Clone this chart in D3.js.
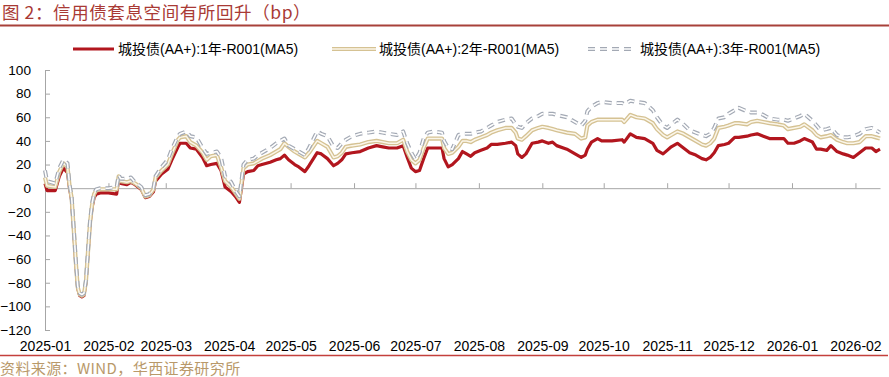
<!DOCTYPE html>
<html lang="zh">
	<head>
		<meta charset="utf-8">
		<title>信用债套息空间</title>
		<script src="https://d3js.org/d3.v7.min.js"></script>
		<style type="text/css">
		body {
			margin: 0;
			background: #fff;
		}
		text {
			font-family: "Liberation Sans", Arial, "Noto Sans CJK SC", sans-serif;
			font-size: 14px;
		}
		.axis path, .axis line {
			stroke: #a6a6a6;
		}
		</style>
	</head>
	<body>
		<div id="chart"></div>
		<script type="text/javascript">
		// data (bp)
		var dates = [
			"2025-01-01","2025-01-02","2025-01-06","2025-01-08","2025-01-10","2025-01-12",
			"2025-01-13","2025-01-14","2025-01-15","2025-01-16","2025-01-17","2025-01-18","2025-01-19","2025-01-20","2025-01-21","2025-01-22","2025-01-23","2025-01-24","2025-01-25","2025-01-26",
			"2025-01-28","2025-02-01","2025-02-05","2025-02-06","2025-02-07",
			"2025-02-10","2025-02-12","2025-02-14","2025-02-17","2025-02-19","2025-02-21","2025-02-23","2025-02-24","2025-02-27","2025-03-02",
			"2025-03-04","2025-03-07","2025-03-08","2025-03-11","2025-03-13","2025-03-16","2025-03-19","2025-03-21","2025-03-23","2025-03-26",
			"2025-03-28","2025-03-30","2025-04-02","2025-04-04","2025-04-06","2025-04-08","2025-04-10","2025-04-13","2025-04-15","2025-04-17",
			"2025-04-21","2025-04-24","2025-04-26","2025-04-28","2025-04-30","2025-05-03","2025-05-05","2025-05-08","2025-05-10","2025-05-14",
			"2025-05-16","2025-05-19","2025-05-22","2025-05-24","2025-05-26","2025-05-28","2025-05-31","2025-06-04","2025-06-08","2025-06-12",
			"2025-06-15","2025-06-18","2025-06-22","2025-06-25","2025-06-27","2025-06-29","2025-07-01","2025-07-03","2025-07-05","2025-07-07",
			"2025-07-10","2025-07-14","2025-07-15","2025-07-17","2025-07-19","2025-07-22","2025-07-24","2025-07-26","2025-07-28","2025-07-30",
			"2025-08-02","2025-08-05","2025-08-07","2025-08-10","2025-08-14","2025-08-17","2025-08-19","2025-08-20","2025-08-22","2025-08-24",
			"2025-08-27","2025-08-30","2025-09-01","2025-09-04","2025-09-06","2025-09-08","2025-09-13","2025-09-17","2025-09-20","2025-09-22",
			"2025-09-23","2025-09-25","2025-09-28","2025-09-30","2025-10-05","2025-10-10","2025-10-11","2025-10-14","2025-10-17","2025-10-21",
			"2025-10-25","2025-10-27","2025-10-30","2025-11-01","2025-11-03","2025-11-06","2025-11-09","2025-11-12","2025-11-15","2025-11-18",
			"2025-11-20","2025-11-22","2025-11-24","2025-11-26","2025-11-29","2025-12-01","2025-12-04","2025-12-06","2025-12-10","2025-12-12",
			"2025-12-15","2025-12-18","2025-12-21","2025-12-25","2025-12-28","2025-12-30","2026-01-02","2026-01-05","2026-01-07","2026-01-11",
			"2026-01-13","2026-01-15","2026-01-18","2026-01-20","2026-01-23","2026-01-26","2026-01-28","2026-01-31","2026-02-03","2026-02-06",
			"2026-02-09","2026-02-11","2026-02-13"
		];

		var y1 = [
			4,-2,-2,10,17,13,
			0,-10,-35,-62,-85,-91,-92,-91,-80,-55,-30,-16,-8,-5,
			-4,-4,-5,8,4,
			3,5,3,-1,-8,-7,-3,6,12,16,
			24,35,38,38,34,33,26,19,20,21,
			15,1,-3,-7,-12,12,14,15,19,20,
			22,24,25,28,24,20,18,14,19,30,
			29,25,19,21,24,29,30,31,34,36,
			35,34,34,36,26,17,14,15,25,34,
			34,34,25,18,20,25,31,29,27,30,
			32,34,37,37,38,39,36,29,26,29,
			38,39,40,38,39,36,33,29,26,28,
			33,39,42,40,40,41,39,46,43,42,
			38,32,29,32,35,38,34,30,28,25,
			24,26,30,36,37,38,43,43,44,45,
			46,44,42,42,42,38,38,40,42,39,
			33,33,32,36,31,29,28,26,30,34,
			34,31,33
		];

		var y2 = [
			9,2,1,14,21,18,
			2,-8,-34,-61,-84,-90,-91,-90,-79,-54,-29,-14,-5,-2,
			-1,-1,-1,10,6,
			5,6,4,0,-7,-6,-1,9,15,20,
			29,41,43,44,39,36,30,24,27,28,
			18,6,1,-4,-9,17,20,21,23,25,
			28,31,33,38,35,31,29,26,30,40,
			38,35,26,27,30,35,36,37,39,40,
			39,38,38,41,31,24,21,24,34,42,
			42,42,34,29,30,35,40,40,39,41,
			43,45,47,49,51,51,47,42,41,44,
			49,51,52,51,50,49,47,46,42,43,
			53,56,58,58,58,58,56,62,60,59,
			55,50,45,43,45,48,46,43,40,37,
			36,38,42,51,52,53,55,55,54,56,
			57,56,55,54,53,50,51,52,54,49,
			45,43,44,45,41,39,38,38,39,44,
			44,43,42
		];

		var y3 = [
			15,6,4,17,24,21,
			3,-7,-33,-60,-83,-89,-90,-89,-78,-53,-28,-13,-4,-1,
			0,0,1,11,8,
			8,9,5,1,-6,-5,0,10,18,24,
			33,44,46,48,44,43,34,29,30,31,
			26,10,5,-2,-7,20,24,25,28,30,
			34,38,40,42,36,33,31,28,34,48,
			46,44,35,34,38,41,44,46,47,48,
			47,46,45,48,38,30,24,30,42,47,
			48,47,40,34,33,45,46,46,46,47,
			48,51,53,56,58,59,54,52,51,55,
			59,61,63,63,63,62,60,56,53,57,
			65,69,72,73,72,72,71,74,73,72,
			66,60,53,51,54,58,54,49,47,45,
			44,46,51,59,60,63,66,68,65,64,
			64,62,59,58,58,57,59,61,63,57,
			53,49,50,51,45,43,43,44,46,50,
			51,49,47
		];

		var seriesNames = [
			"城投债(AA+):1年-R001(MA5)",
			"城投债(AA+):2年-R001(MA5)",
			"城投债(AA+):3年-R001(MA5)"
		];

		var yTicks = [-120, -100, -80, -60, -40, -20, 0, 20, 40, 60, 80, 100];
		var monthTicks = ["2025-01-01","2025-02-01","2025-03-01","2025-04-01","2025-05-01","2025-06-01","2025-07-01",
			"2025-08-01","2025-09-01","2025-10-01","2025-11-01","2025-12-01","2026-01-01","2026-02-01"];

		//Width and height
		var w = 889;
		var h = 377;

		var parse = d3.timeParse("%Y-%m-%d");
		var fmt = d3.timeFormat("%Y-%m");

		var xScale = d3.scaleTime()
		.domain([parse("2025-01-01"), parse("2026-02-13")])
		.range([45, 880]);

		var yScale = d3.scaleLinear()
		.domain([-120, 100])
		.range([330, 70]);

		var svg = d3.select("#chart")
		.append("svg")
		.attr("width", w)
		.attr("height", h);

		// title and rules
		svg.append("text")
		.attr("x", 2)
		.attr("y", 19)
		.attr("fill", "#a93a35")
		.style("font-family", "'Noto Sans CJK SC', sans-serif")
		.style("font-size", "17.5px")
		.style("letter-spacing", "0.6px")
		.text("图 2：信用债套息空间有所回升（bp）");

		svg.append("line")
		.attr("x1", 0).attr("x2", w)
		.attr("y1", 25.5).attr("y2", 25.5)
		.attr("stroke", "#a8413a")
		.attr("stroke-width", 2);

		svg.append("line")
		.attr("x1", 0).attr("x2", 888)
		.attr("y1", 355.5).attr("y2", 355.5)
		.attr("stroke", "#c4403c")
		.attr("stroke-width", 1.6);

		svg.append("text")
		.attr("x", 0)
		.attr("y", 374)
		.attr("fill", "#b9996a")
		.style("font-family", "'Noto Sans CJK SC', sans-serif")
		.style("font-size", "15px")
		.style("letter-spacing", "0.4px")
		.text("资料来源：WIND，华西证券研究所");

		//Y axis with inside ticks
		var yAxis = d3.axisLeft(yScale)
		.tickValues(yTicks)
		.tickSize(-5)
		.tickPadding(14)
		.tickSizeOuter(0);

		var gy = svg.append("g")
		.attr("class", "axis")
		.attr("transform", "translate(45,0)")
		.call(yAxis);
		gy.selectAll("text").attr("fill", "#000").style("font-size", "13.6px");

		//X axis at zero, ticks pointing up
		var xAxis = d3.axisBottom(xScale)
		.tickValues(monthTicks.map(parse))
		.tickSize(-5)
		.tickSizeOuter(0)
		.tickFormat("");

		svg.append("g")
		.attr("class", "axis")
		.attr("transform", "translate(0," + yScale(0) + ")")
		.call(xAxis);

		// month labels at the bottom
		var xLabels = d3.axisBottom(xScale)
		.tickValues(monthTicks.map(parse))
		.tickSize(0)
		.tickPadding(11)
		.tickFormat(fmt);

		var gl = svg.append("g")
		.attr("transform", "translate(0,330)")
		.call(xLabels);
		gl.select(".domain").remove();
		gl.selectAll("text").attr("fill", "#000").style("font-size", "14px");

		// build rows
		var data = dates.map(function (d, i) {
			return {date: parse(d), a: y1[i], b: y2[i], c: y3[i]};
		});

		var lineOf = function (key) {
			return d3.line()
			.x(d => xScale(d.date))
			.y(d => yScale(d[key]));
		};

		var plot = svg.append("g");

		//1Y: solid dark red
		plot.append("path")
		.datum(data)
		.attr("d", lineOf("a"))
		.attr("fill", "none")
		.attr("stroke", "#b2161e")
		.attr("stroke-width", 3.2)
		.attr("stroke-linejoin", "round");

		//2Y: tan double line
		plot.append("path")
		.datum(data)
		.attr("d", lineOf("b"))
		.attr("fill", "none")
		.attr("stroke", "#d5c293")
		.attr("stroke-width", 4.2)
		.attr("stroke-linejoin", "round");
		plot.append("path")
		.datum(data)
		.attr("d", lineOf("b"))
		.attr("fill", "none")
		.attr("stroke", "#fbf6ea")
		.attr("stroke-width", 1.5)
		.attr("stroke-linejoin", "round");

		//3Y: grey outlined dashes
		plot.append("path")
		.datum(data)
		.attr("d", lineOf("c"))
		.attr("fill", "none")
		.attr("stroke", "#a3a9b4")
		.attr("stroke-width", 4)
		.attr("stroke-dasharray", "7,5")
		.attr("stroke-linejoin", "round");
		plot.append("path")
		.datum(data)
		.attr("d", lineOf("c"))
		.attr("fill", "none")
		.attr("stroke", "#ffffff")
		.attr("stroke-width", 1.6)
		.attr("stroke-dasharray", "7,5")
		.attr("stroke-linejoin", "round");

		// legend
		var legendX = [73, 332, 588];
		var legend = svg.append("g");

		legend.append("line")
		.attr("x1", legendX[0]).attr("x2", legendX[0] + 41)
		.attr("y1", 49).attr("y2", 49)
		.attr("stroke", "#b2161e").attr("stroke-width", 3.2);

		legend.append("line")
		.attr("x1", legendX[1]).attr("x2", legendX[1] + 44)
		.attr("y1", 49).attr("y2", 49)
		.attr("stroke", "#d5c293").attr("stroke-width", 4.2);
		legend.append("line")
		.attr("x1", legendX[1]).attr("x2", legendX[1] + 44)
		.attr("y1", 49).attr("y2", 49)
		.attr("stroke", "#fbf6ea").attr("stroke-width", 1.5);

		legend.append("line")
		.attr("x1", legendX[2]).attr("x2", legendX[2] + 46)
		.attr("y1", 49).attr("y2", 49)
		.attr("stroke", "#a3a9b4").attr("stroke-width", 4)
		.attr("stroke-dasharray", "7,5");
		legend.append("line")
		.attr("x1", legendX[2]).attr("x2", legendX[2] + 46)
		.attr("y1", 49).attr("y2", 49)
		.attr("stroke", "#ffffff").attr("stroke-width", 1.6)
		.attr("stroke-dasharray", "7,5");

		legend.selectAll("text.lg")
		.data(seriesNames)
		.enter()
		.append("text")
		.attr("class", "lg")
		.attr("x", (d, i) => [118, 379, 640][i])
		.attr("y", 54)
		.attr("fill", "#000")
		.text(d => d);
		</script>
	</body>
</html>
